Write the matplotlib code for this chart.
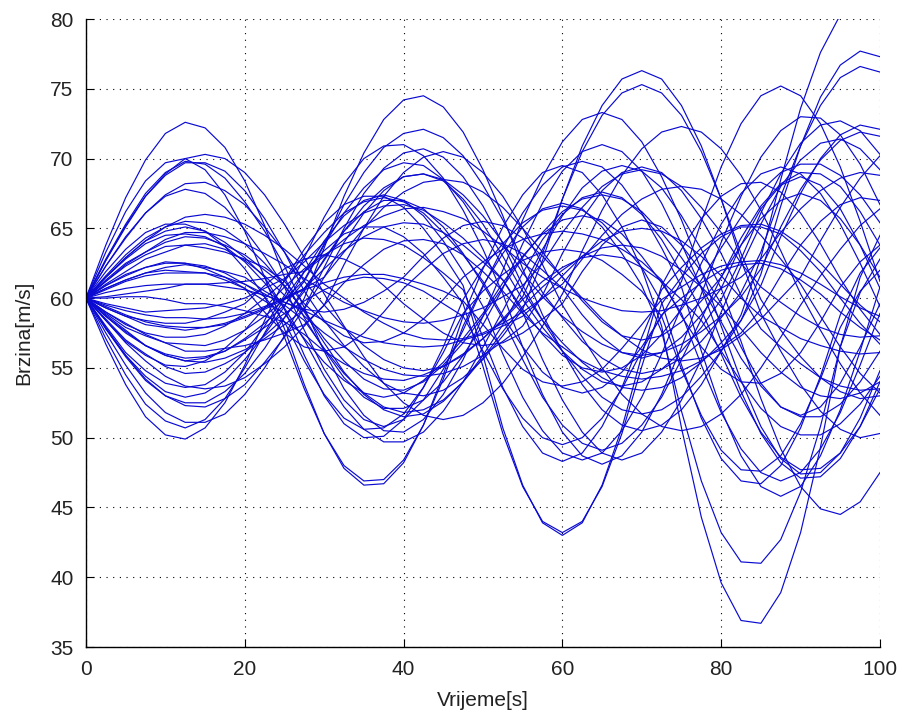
import matplotlib
matplotlib.use("Agg")
import matplotlib.pyplot as plt

# vremenska os [s]
vrijeme = [0, 2.5, 5, 7.5, 10, 12.5, 15, 17.5, 20, 22.5, 25, 27.5, 30, 32.5, 35, 37.5, 40,
           42.5, 45, 47.5, 50, 52.5, 55, 57.5, 60, 62.5, 65, 67.5, 70, 72.5, 75, 77.5, 80,
           82.5, 85, 87.5, 90, 92.5, 95, 97.5, 100]

# brzine vozila [m/s], ocitane s grafa
brzina_01 = [60, 63.3, 66.2, 68.4, 69.7, 70.0, 69.2, 67.4, 64.8, 61.5, 57.8, 53.8, 50.3, 47.8, 46.6, 46.7, 48.2, 50.9, 54.5, 58.7, 62.1, 65.1, 67.4, 69.0, 69.5, 69.0, 67.4, 65.1, 62.1, 58.0, 50.7, 44.3, 39.6, 36.9, 36.7, 38.9, 43.2, 49.3, 56.5, 61.5, 64.5]
brzina_02 = [60, 61.9, 63.5, 64.7, 65.3, 65.3, 64.8, 63.7, 62.1, 60.1, 57.2, 53.5, 50.3, 48.0, 46.9, 47.0, 48.4, 50.9, 54.2, 58.0, 60.9, 63.2, 65.1, 66.4, 66.8, 66.4, 65.1, 63.2, 60.9, 57.6, 51.9, 46.9, 43.2, 41.1, 41.0, 42.7, 46.1, 50.8, 56.5, 60.4, 62.8]
brzina_03 = [60, 61.5, 62.9, 64.1, 64.8, 65.1, 64.8, 64.0, 62.9, 61.5, 59.2, 55.9, 53.0, 51.0, 50.0, 50.1, 51.3, 53.6, 56.5, 59.9, 62.2, 63.9, 65.4, 66.3, 66.6, 66.3, 65.4, 63.9, 62.2, 59.7, 55.2, 51.4, 48.5, 46.9, 46.7, 48.0, 50.7, 54.4, 58.8, 61.8, 63.6]
brzina_04 = [60, 60.9, 61.6, 62.2, 62.5, 62.5, 62.3, 61.8, 61.0, 60.1, 58.3, 55.5, 53.1, 51.4, 50.6, 50.7, 51.7, 53.6, 56.1, 58.9, 60.5, 61.7, 62.7, 63.3, 63.5, 63.3, 62.7, 61.7, 60.5, 58.7, 54.9, 51.6, 49.1, 47.7, 47.6, 48.7, 51.0, 54.2, 57.9, 60.5, 62.0]
brzina_05 = [60, 56.7, 53.8, 51.5, 50.2, 49.9, 50.7, 52.5, 55.2, 58.4, 61.3, 63.5, 65.4, 66.7, 67.3, 67.3, 66.5, 65.0, 63.1, 60.9, 55.9, 50.7, 46.6, 43.9, 43.0, 43.9, 46.6, 50.7, 55.9, 60.9, 63.5, 65.7, 67.3, 68.2, 68.3, 67.6, 66.1, 63.9, 61.4, 59.2, 57.4]
brzina_06 = [60, 57.1, 54.5, 52.4, 51.2, 50.7, 51.3, 52.8, 55.0, 57.5, 60.0, 61.9, 63.4, 64.6, 65.1, 65.1, 64.4, 63.2, 61.5, 59.6, 55.1, 50.3, 46.5, 44.0, 43.2, 44.0, 46.5, 50.3, 55.1, 59.6, 61.5, 63.2, 64.4, 65.1, 65.1, 64.6, 63.4, 61.9, 60.0, 58.2, 56.7]
brzina_07 = [60, 58.4, 56.9, 55.9, 55.2, 55.1, 55.5, 56.4, 57.7, 59.3, 60.8, 62.1, 63.1, 63.9, 64.3, 64.2, 63.8, 62.9, 61.8, 60.6, 57.2, 53.6, 50.8, 48.9, 48.3, 48.9, 50.8, 53.6, 57.2, 60.6, 62.2, 63.6, 64.6, 65.2, 65.3, 64.8, 63.8, 62.5, 61.0, 59.5, 58.3]
brzina_08 = [60, 58.7, 57.6, 56.6, 55.9, 55.5, 55.7, 56.2, 57.0, 57.9, 58.9, 59.8, 60.6, 61.2, 61.5, 61.4, 61.1, 60.5, 59.6, 58.7, 56.2, 53.5, 51.4, 50.0, 49.5, 50.0, 51.4, 53.5, 56.2, 58.8, 60.0, 61.1, 62.0, 62.4, 62.5, 62.1, 61.3, 60.3, 59.0, 57.9, 57.0]
brzina_09 = [60, 61.0, 61.9, 62.8, 63.3, 63.8, 63.6, 63.3, 62.8, 62.2, 61.2, 59.6, 58.3, 57.3, 56.8, 56.9, 57.5, 58.5, 59.9, 61.5, 62.6, 63.5, 64.2, 64.6, 64.8, 64.6, 64.2, 63.5, 62.6, 61.3, 58.7, 56.5, 54.9, 54.0, 53.9, 54.6, 56.1, 58.3, 60.8, 62.6, 63.8]
brzina_10 = [60, 59.3, 58.7, 58.1, 57.9, 57.7, 57.9, 58.2, 58.7, 59.3, 60.0, 60.6, 61.1, 61.5, 61.7, 61.7, 61.4, 61.0, 60.5, 59.8, 58.1, 56.4, 54.9, 54.0, 53.7, 54.0, 54.9, 56.4, 58.1, 59.9, 60.8, 61.7, 62.3, 62.6, 62.7, 62.4, 61.8, 61.0, 60.1, 59.3, 58.7]
brzina_11 = [60, 62.7, 65.2, 67.3, 68.8, 69.7, 69.7, 69.1, 67.7, 65.7, 63.3, 60.5, 58.4, 56.6, 55.1, 53.9, 53.2, 53.0, 53.4, 54.3, 55.6, 57.3, 59.2, 62.7, 67.1, 70.9, 73.8, 75.7, 76.3, 75.7, 73.8, 70.9, 67.1, 62.7, 58.9, 56.2, 53.8, 51.9, 50.6, 50.0, 50.3]
brzina_12 = [60, 62.3, 64.3, 66.1, 67.4, 68.2, 68.3, 67.7, 66.7, 65.1, 63.3, 61.2, 59.5, 57.9, 56.6, 55.6, 55.0, 54.8, 55.1, 55.9, 57.1, 58.5, 60.1, 63.2, 67.1, 70.5, 73.1, 74.7, 75.3, 74.7, 73.1, 70.5, 67.1, 63.2, 59.9, 57.7, 55.8, 54.3, 53.3, 52.8, 53.0]
brzina_13 = [60, 61.2, 62.3, 63.1, 63.7, 63.8, 63.9, 63.5, 62.7, 61.6, 60.2, 58.7, 57.5, 56.5, 55.6, 54.9, 54.5, 54.4, 54.6, 55.1, 55.9, 56.9, 58.0, 60.2, 63.2, 65.7, 67.7, 69.0, 69.4, 69.0, 67.7, 65.7, 63.2, 60.2, 57.8, 56.5, 55.3, 54.3, 53.7, 53.4, 53.5]
brzina_14 = [60, 61.2, 62.4, 63.3, 64.2, 64.7, 64.7, 64.4, 63.9, 63.2, 62.4, 61.4, 60.5, 59.7, 59.1, 58.6, 58.3, 58.2, 58.4, 58.8, 59.3, 60.1, 60.9, 62.5, 64.7, 66.5, 68.0, 68.9, 69.2, 68.9, 68.0, 66.5, 64.7, 62.5, 60.8, 59.7, 58.7, 57.9, 57.4, 57.2, 57.3]
brzina_15 = [60, 57.5, 55.2, 53.2, 51.8, 51.1, 51.1, 51.7, 53.1, 55.0, 57.3, 60.0, 63.6, 67.3, 70.4, 72.8, 74.2, 74.5, 73.7, 71.9, 69.2, 65.9, 62.1, 58.8, 56.2, 53.8, 52.0, 50.9, 50.5, 50.9, 52.0, 53.8, 56.2, 58.8, 62.9, 68.5, 73.6, 77.6, 80.3, 81.5, 81.0]
brzina_16 = [60, 57.8, 55.9, 54.2, 53.0, 52.3, 52.2, 52.8, 53.8, 55.4, 57.2, 59.3, 62.2, 65.0, 67.5, 69.3, 70.4, 70.7, 70.1, 68.7, 66.6, 63.9, 60.9, 58.4, 56.2, 54.4, 52.9, 52.0, 51.7, 52.0, 52.9, 54.4, 56.2, 58.4, 61.7, 66.6, 70.9, 74.4, 76.7, 77.7, 77.3]
brzina_17 = [60, 58.9, 57.9, 57.3, 56.8, 56.7, 56.6, 57.0, 57.7, 58.7, 59.9, 61.3, 63.9, 66.7, 69.0, 70.8, 71.8, 72.1, 71.5, 70.2, 68.1, 65.6, 62.8, 60.4, 58.6, 56.9, 55.7, 54.9, 54.6, 54.9, 55.7, 56.9, 58.6, 60.4, 63.3, 67.3, 70.9, 73.8, 75.8, 76.6, 76.2]
brzina_18 = [60, 58.8, 57.7, 56.6, 55.9, 55.5, 55.4, 55.7, 56.3, 57.1, 58.1, 59.2, 61.5, 64.0, 66.1, 67.7, 68.7, 68.9, 68.4, 67.1, 65.3, 63.0, 60.5, 58.4, 56.8, 55.4, 54.3, 53.6, 53.4, 53.6, 54.3, 55.4, 56.8, 58.4, 60.9, 64.4, 67.5, 70.0, 71.7, 72.4, 72.1]
brzina_19 = [60, 59.4, 58.8, 58.3, 58.0, 57.9, 57.9, 58.1, 58.6, 59.2, 59.9, 60.7, 62.7, 64.8, 66.6, 67.9, 68.7, 68.9, 68.5, 67.4, 65.9, 64.0, 61.8, 60.1, 58.7, 57.6, 56.7, 56.1, 55.9, 56.1, 56.7, 57.6, 58.7, 60.1, 62.1, 65.1, 67.8, 69.9, 71.3, 71.9, 71.6]
brzina_20 = [60, 59.0, 58.2, 57.4, 56.8, 56.2, 56.2, 56.4, 56.6, 57.0, 57.5, 58.1, 59.5, 61.1, 62.4, 63.5, 64.1, 64.2, 63.9, 63.1, 61.9, 60.5, 58.9, 57.5, 56.5, 55.5, 54.8, 54.4, 54.2, 54.4, 54.8, 55.5, 56.5, 57.5, 59.2, 61.6, 63.8, 65.5, 66.7, 67.2, 67.0]
brzina_21 = [60, 60.1, 60.3, 60.5, 60.7, 61.0, 61.0, 61.1, 61.2, 61.4, 61.7, 61.9, 63.0, 64.2, 65.2, 65.9, 66.4, 66.5, 66.2, 65.7, 64.8, 63.7, 62.5, 61.5, 60.7, 60.0, 59.5, 59.1, 59.0, 59.1, 59.5, 60.0, 60.7, 61.5, 62.8, 64.7, 66.4, 67.7, 68.6, 69.0, 68.8]
brzina_22 = [60, 60.4, 60.7, 60.9, 61.0, 61.0, 61.0, 60.8, 60.6, 60.2, 59.7, 59.1, 58.4, 57.8, 57.2, 56.8, 56.6, 56.5, 56.6, 57.0, 57.4, 58.0, 58.7, 60.0, 61.6, 63.0, 64.1, 64.8, 65.0, 64.8, 64.1, 63.0, 61.6, 60.0, 58.7, 57.9, 57.1, 56.6, 56.2, 56.0, 56.1]
brzina_23 = [60, 63.8, 67.2, 69.9, 71.8, 72.6, 72.2, 70.8, 68.4, 65.2, 61.5, 58.6, 56.3, 54.3, 52.9, 52.1, 52.1, 52.7, 54.0, 55.9, 58.1, 60.7, 63.9, 66.8, 69.1, 70.5, 71.0, 70.5, 69.1, 66.8, 63.9, 60.7, 56.9, 53.3, 50.3, 48.2, 47.1, 47.2, 48.5, 50.8, 54.0]
brzina_24 = [60, 62.8, 65.3, 67.5, 69.0, 69.8, 69.6, 68.6, 66.9, 64.8, 62.3, 59.3, 56.2, 53.5, 51.6, 50.5, 50.4, 51.3, 53.1, 55.6, 58.7, 62.0, 65.6, 68.7, 71.2, 72.8, 73.3, 72.8, 71.2, 68.7, 65.6, 62.0, 58.0, 54.1, 50.8, 48.5, 47.4, 47.5, 48.9, 51.4, 54.8]
brzina_25 = [60, 61.5, 62.8, 63.9, 64.5, 64.6, 64.4, 63.7, 62.6, 61.1, 59.3, 57.0, 54.4, 52.2, 50.6, 49.7, 49.7, 50.4, 51.9, 54.0, 56.5, 59.1, 61.8, 64.2, 66.0, 67.2, 67.6, 67.2, 66.0, 64.2, 61.8, 59.1, 56.0, 52.9, 50.4, 48.6, 47.7, 47.8, 48.9, 50.8, 53.5]
brzina_26 = [60, 61.3, 62.5, 63.3, 64.0, 64.4, 64.3, 63.8, 63.1, 62.0, 60.9, 59.1, 57.1, 55.5, 54.2, 53.5, 53.4, 54.0, 55.2, 56.8, 58.7, 60.8, 62.9, 64.7, 66.2, 67.1, 67.4, 67.1, 66.2, 64.7, 62.9, 60.8, 58.3, 55.7, 53.7, 52.2, 51.5, 51.5, 52.4, 54.0, 56.2]
brzina_27 = [60, 58.0, 56.1, 54.8, 53.9, 53.6, 53.8, 54.7, 56.1, 58.0, 60.2, 62.9, 65.8, 68.2, 70.0, 70.9, 71.0, 70.2, 68.6, 66.3, 63.5, 60.3, 56.5, 53.1, 50.4, 48.7, 48.1, 48.7, 50.4, 53.1, 56.5, 60.3, 64.0, 67.3, 70.1, 72.0, 73.0, 72.9, 71.7, 69.6, 66.7]
brzina_28 = [60, 58.5, 57.0, 56.0, 55.1, 54.6, 54.7, 55.3, 56.1, 57.3, 58.6, 60.5, 62.8, 64.8, 66.2, 67.0, 67.0, 66.4, 65.1, 63.2, 61.0, 58.5, 55.6, 52.9, 50.9, 49.6, 49.1, 49.6, 50.9, 52.9, 55.6, 58.5, 61.5, 64.3, 66.6, 68.2, 69.0, 68.9, 68.0, 66.2, 63.8]
brzina_29 = [60, 59.6, 59.3, 59.0, 59.1, 59.2, 59.3, 59.6, 60.0, 60.7, 61.4, 62.6, 64.0, 65.2, 66.1, 66.6, 66.7, 66.3, 65.4, 64.3, 62.9, 61.3, 59.2, 57.4, 55.9, 55.0, 54.7, 55.0, 55.9, 57.4, 59.2, 61.3, 63.6, 65.8, 67.7, 69.0, 69.6, 69.6, 68.8, 67.4, 65.4]
brzina_30 = [60, 60.0, 60.1, 60.1, 59.9, 59.6, 59.6, 59.4, 59.1, 58.7, 58.3, 57.4, 56.2, 55.3, 54.6, 54.2, 54.1, 54.5, 55.1, 56.0, 57.1, 58.4, 59.9, 61.2, 62.2, 62.9, 63.1, 62.9, 62.2, 61.2, 59.9, 58.4, 56.2, 54.0, 52.1, 50.8, 50.2, 50.2, 51.0, 52.4, 54.4]
brzina_31 = [60, 60.9, 61.7, 62.2, 62.6, 62.5, 62.1, 61.5, 60.7, 59.0, 57.5, 56.5, 56.2, 56.5, 57.5, 59.0, 60.7, 62.0, 63.2, 63.9, 64.2, 63.9, 63.2, 62.0, 60.7, 58.8, 57.2, 56.1, 55.7, 56.1, 57.2, 58.8, 60.7, 63.8, 66.4, 68.1, 68.7, 68.1, 66.4, 63.8, 60.7]
brzina_32 = [60, 59.3, 58.7, 58.4, 58.2, 58.2, 58.5, 59.0, 59.6, 60.9, 62.1, 62.8, 63.1, 62.8, 62.1, 60.9, 59.6, 58.5, 57.5, 56.8, 56.6, 56.8, 57.5, 58.5, 59.6, 61.9, 63.8, 65.1, 65.6, 65.1, 63.8, 61.9, 59.6, 56.5, 53.9, 52.2, 51.6, 52.2, 53.9, 56.5, 59.6]
brzina_33 = [60, 60.7, 61.3, 61.8, 62.2, 62.4, 62.2, 61.9, 61.5, 60.5, 59.7, 59.2, 59.0, 59.2, 59.7, 60.5, 61.5, 63.0, 64.3, 65.2, 65.5, 65.2, 64.3, 63.0, 61.5, 59.8, 58.3, 57.3, 57.0, 57.3, 58.3, 59.8, 61.5, 63.8, 65.7, 67.0, 67.5, 67.0, 65.7, 63.8, 61.5]
brzina_34 = [60, 62.3, 64.4, 66.1, 67.3, 67.8, 67.5, 66.5, 64.9, 63.0, 60.8, 57.7, 54.9, 52.7, 51.3, 50.8, 51.3, 52.7, 54.9, 57.7, 60.8, 63.6, 66.1, 68.1, 69.4, 69.8, 69.4, 68.1, 66.1, 63.6, 60.8, 56.2, 52.0, 48.7, 46.5, 45.8, 46.5, 48.7, 52.0, 56.2, 60.8]
brzina_35 = [60, 57.9, 55.9, 54.4, 53.3, 52.9, 53.2, 54.1, 55.6, 57.4, 59.4, 61.9, 64.1, 65.9, 67.0, 67.4, 67.0, 65.9, 64.1, 61.9, 59.4, 56.0, 52.9, 50.5, 48.9, 48.4, 48.9, 50.5, 52.9, 56.0, 59.4, 62.5, 65.3, 67.5, 68.9, 69.4, 68.9, 67.5, 65.3, 62.5, 59.4]
brzina_36 = [60, 60.7, 61.3, 61.8, 62.0, 61.9, 61.8, 61.3, 60.7, 59.8, 58.9, 57.1, 55.4, 54.1, 53.2, 52.9, 53.2, 54.1, 55.4, 57.1, 58.9, 61.1, 63.0, 64.6, 65.6, 65.9, 65.6, 64.6, 63.0, 61.1, 58.9, 55.2, 51.8, 49.2, 47.5, 46.9, 47.5, 49.2, 51.8, 55.2, 58.9]
brzina_37 = [60, 59.0, 58.1, 57.5, 57.2, 57.2, 57.4, 58.0, 58.9, 60.0, 61.2, 63.1, 64.7, 66.1, 66.9, 67.2, 66.9, 66.1, 64.7, 63.1, 61.2, 58.7, 56.5, 54.7, 53.6, 53.2, 53.6, 54.7, 56.5, 58.7, 61.2, 65.5, 69.4, 72.5, 74.5, 75.2, 74.5, 72.5, 69.4, 65.5, 61.2]
brzina_38 = [60, 62.7, 65.1, 67.3, 68.9, 70.0, 70.3, 70.0, 69.0, 67.4, 65.3, 62.9, 60.3, 58.0, 55.8, 53.9, 52.5, 51.6, 51.3, 51.6, 52.5, 53.9, 55.8, 58.0, 60.3, 63.4, 66.3, 68.8, 70.7, 71.9, 72.3, 71.9, 70.7, 68.8, 66.3, 63.4, 60.3, 57.7, 55.3, 53.2, 51.6]
brzina_39 = [60, 58.4, 56.8, 55.5, 54.4, 53.7, 53.5, 53.7, 54.3, 55.3, 56.5, 58.0, 59.5, 62.4, 65.0, 67.3, 69.0, 70.1, 70.5, 70.1, 69.0, 67.3, 65.0, 62.4, 59.5, 57.2, 55.0, 53.1, 51.7, 50.8, 50.5, 50.8, 51.7, 53.1, 55.0, 57.2, 59.5, 61.6, 63.5, 65.2, 66.4]
brzina_40 = [60, 61.5, 62.9, 64.1, 65.1, 65.8, 66.0, 65.8, 65.3, 64.5, 63.5, 62.3, 61.0, 60.0, 59.0, 58.2, 57.5, 57.1, 57.0, 57.1, 57.5, 58.2, 59.0, 60.0, 61.0, 62.8, 64.5, 66.0, 67.1, 67.8, 68.0, 67.8, 67.1, 66.0, 64.5, 62.8, 61.0, 58.7, 56.5, 54.6, 53.2]
brzina_41 = [60, 59.5, 59.1, 58.8, 58.6, 58.6, 58.5, 58.6, 58.9, 59.4, 60.0, 60.7, 61.5, 63.3, 65.0, 66.5, 67.6, 68.3, 68.5, 68.3, 67.6, 66.5, 65.0, 63.3, 61.5, 60.0, 58.5, 57.3, 56.3, 55.7, 55.5, 55.7, 56.3, 57.3, 58.5, 60.0, 61.5, 64.1, 66.5, 68.6, 70.2]
brzina_42 = [60, 61.6, 63.1, 64.3, 65.1, 65.5, 65.4, 64.9, 63.9, 62.5, 60.9, 59.0, 56.8, 54.7, 53.1, 52.0, 51.5, 51.7, 52.6, 54.0, 55.9, 58.1, 60.7, 63.5, 65.9, 67.9, 69.1, 69.5, 69.1, 67.9, 65.9, 63.5, 60.7, 56.9, 52.8, 49.2, 46.5, 44.9, 44.5, 45.4, 47.5]
brzina_43 = [60, 58.7, 57.5, 56.6, 56.0, 55.7, 55.8, 56.2, 57.1, 58.2, 59.5, 61.2, 63.8, 66.1, 67.9, 69.2, 69.7, 69.5, 68.5, 66.9, 64.7, 62.3, 59.9, 57.9, 56.2, 54.9, 54.0, 53.7, 54.0, 54.9, 56.2, 57.9, 59.9, 62.8, 66.1, 68.9, 71.1, 72.4, 72.7, 72.0, 70.3]
brzina_44 = [60, 60.6, 61.2, 61.6, 61.8, 61.8, 61.8, 61.5, 61.0, 60.3, 59.5, 58.4, 56.4, 54.6, 53.2, 52.2, 51.8, 52.0, 52.7, 54.0, 55.7, 57.6, 59.4, 60.8, 62.0, 63.0, 63.6, 63.8, 63.6, 63.0, 62.0, 60.8, 59.4, 57.8, 56.1, 54.7, 53.6, 53.0, 52.8, 53.2, 54.0]
brzina_45 = [60, 57.8, 55.8, 54.1, 53.0, 52.5, 52.5, 53.3, 54.6, 56.4, 58.6, 60.7, 62.1, 63.4, 64.4, 65.1, 65.4, 65.3, 64.7, 63.8, 62.6, 61.3, 59.0, 55.6, 52.7, 50.4, 48.9, 48.4, 48.9, 50.4, 52.7, 55.6, 59.0, 62.3, 65.3, 68.0, 69.9, 71.1, 71.4, 70.7, 69.2]

brzine = [brzina_01, brzina_02, brzina_03, brzina_04, brzina_05, brzina_06, brzina_07,
          brzina_08, brzina_09, brzina_10, brzina_11, brzina_12, brzina_13, brzina_14,
          brzina_15, brzina_16, brzina_17, brzina_18, brzina_19, brzina_20, brzina_21,
          brzina_22, brzina_23, brzina_24, brzina_25, brzina_26, brzina_27, brzina_28,
          brzina_29, brzina_30, brzina_31, brzina_32, brzina_33, brzina_34, brzina_35,
          brzina_36, brzina_37, brzina_38, brzina_39, brzina_40, brzina_41, brzina_42,
          brzina_43, brzina_44, brzina_45]

x_ticks = [0, 20, 40, 60, 80, 100]
y_ticks = [35, 40, 45, 50, 55, 60, 65, 70, 75, 80]

plt.rcParams["font.family"] = ["Liberation Sans", "DejaVu Sans"]

fig = plt.figure(figsize=(9.02, 7.23), dpi=100)
ax = fig.add_axes([0.0953, 0.1051, 0.8803, 0.8686])

for b in brzine:
    ax.plot(vrijeme, b, color="#0a0ad2", linewidth=0.85)

ax.set_xlim(0, 100)
ax.set_ylim(35, 80)
ax.set_xticks(x_ticks)
ax.set_yticks(y_ticks)
ax.grid(True, linestyle=(0, (1, 5)), color="black", linewidth=0.8)
ax.tick_params(direction="in", length=6, width=0.8, labelsize=15, pad=9,
               labelcolor="#222222")

for s in ["top", "right"]:
    ax.spines[s].set_visible(False)
for s in ["left", "bottom"]:
    ax.spines[s].set_linewidth(1.0)

ax.set_xlabel("Vrijeme[s]", fontsize=15, labelpad=9, color="#222222")
ax.set_ylabel("Brzina[m/s]", fontsize=15, labelpad=12, color="#222222")

fig.savefig("out.png", dpi=100)
